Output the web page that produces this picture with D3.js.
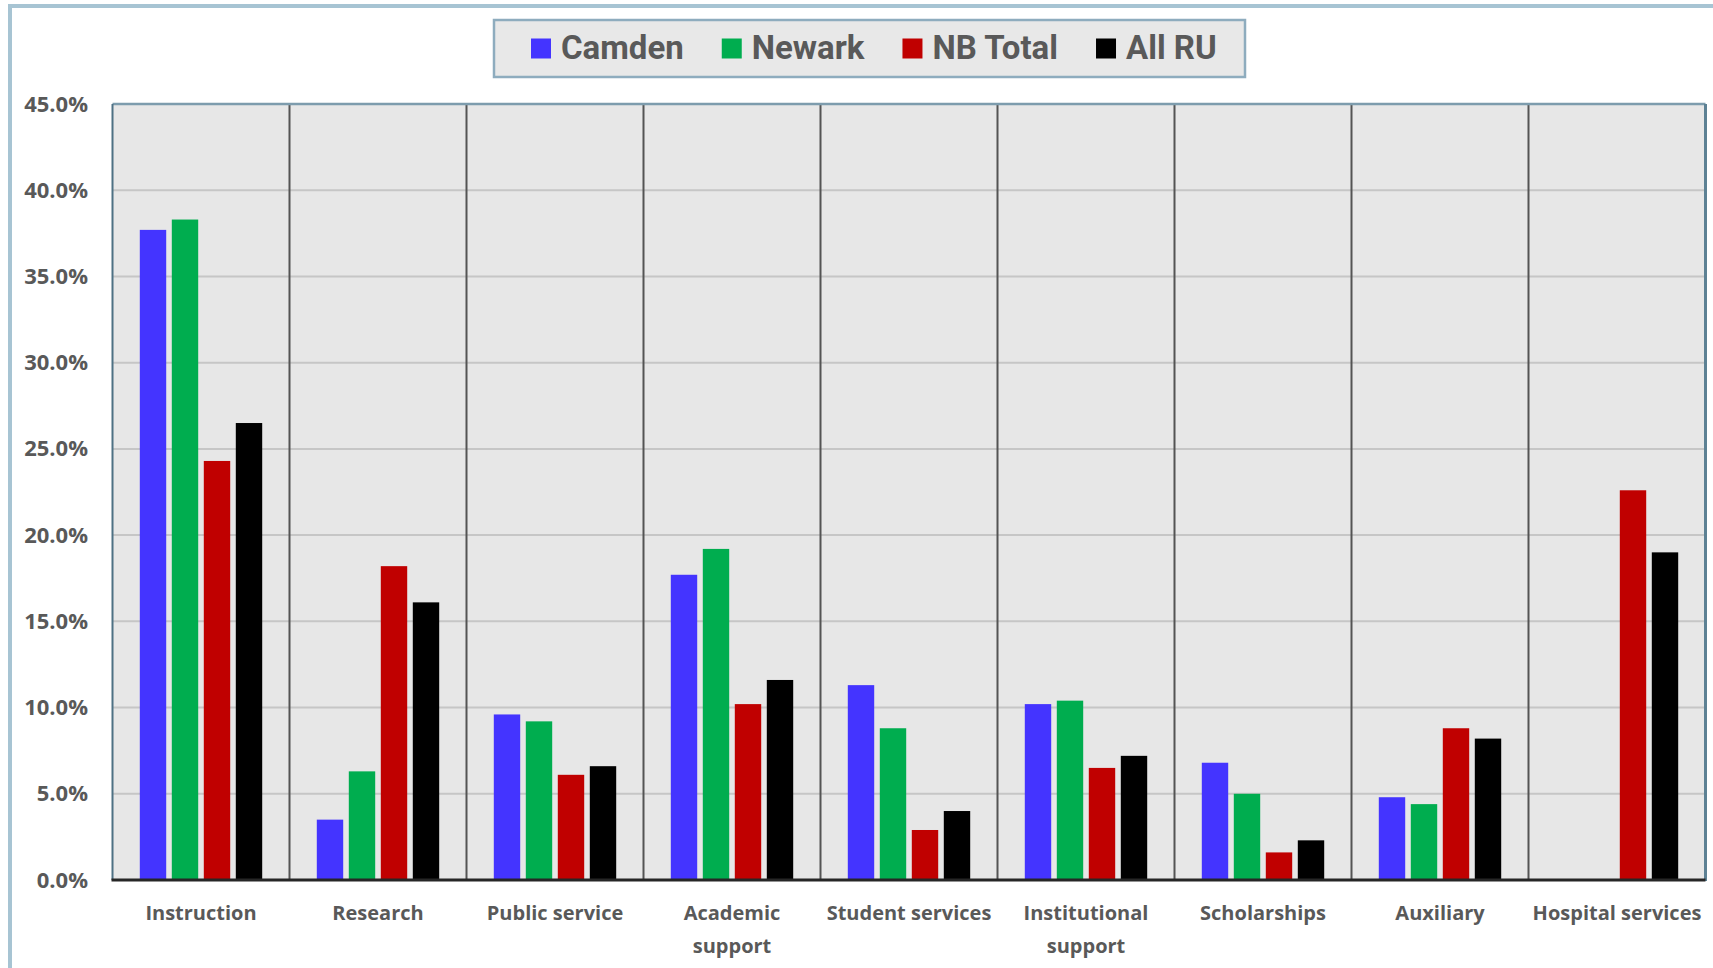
<!DOCTYPE html>
<html>
<head>
<meta charset="utf-8">
<script src="https://cdn.jsdelivr.net/npm/d3@7"></script>
<style>
  html, body { margin: 0; padding: 0; background: #ffffff; }
  svg { display: block; }
</style>
</head>
<body>
<svg id="chart" width="1713" height="968"></svg>
<script>
// Share of expenditures by function, per campus
const categories = ["Instruction", "Research", "Public service", "Academic support", "Student services",
  "Institutional support", "Scholarships", "Auxiliary", "Hospital services"];
const categoryLines = [["Instruction"], ["Research"], ["Public service"], ["Academic", "support"],
  ["Student services"], ["Institutional", "support"], ["Scholarships"], ["Auxiliary"], ["Hospital services"]];
const seriesNames = ["Camden", "Newark", "NB Total", "All RU"];
const seriesColors = ["#4434ff", "#00ad4f", "#c00000", "#000000"];
const camden  = [37.7, 3.5, 9.6, 17.7, 11.3, 10.2, 6.8, 4.8, 0];
const newark  = [38.3, 6.3, 9.2, 19.2, 8.8, 10.4, 5.0, 4.4, 0];
const nbTotal = [24.3, 18.2, 6.1, 10.2, 2.9, 6.5, 1.6, 8.8, 22.6];
const allRU   = [26.5, 16.1, 6.6, 11.6, 4.0, 7.2, 2.3, 8.2, 19.0];
const seriesValues = [camden, newark, nbTotal, allRU];
const yTicks = [0, 5, 10, 15, 20, 25, 30, 35, 40, 45];

const svg = d3.select("#chart");
const plot = { left: 112.5, right: 1705.5, top: 104, bottom: 880 };
const textGray = "#595959";

// outer frame
svg.append("rect")
  .attr("x", 10).attr("y", 6).attr("width", 1780).attr("height", 1000)
  .attr("fill", "none").attr("stroke", "#a7c4d3").attr("stroke-width", 4);

const x = d3.scaleBand().domain(categories).range([plot.left, plot.right]).padding(0);
const xInner = d3.scaleBand().domain(seriesNames).range([0, x.bandwidth()])
  .paddingInner(0.175).paddingOuter(0.853);
const y = d3.scaleLinear().domain([0, 45]).range([plot.bottom, plot.top]);

// plot background
svg.append("rect")
  .attr("x", plot.left).attr("y", plot.top)
  .attr("width", plot.right - plot.left).attr("height", plot.bottom - plot.top)
  .attr("fill", "#e7e7e7");

// horizontal gridlines
svg.append("g").selectAll("line")
  .data(yTicks.filter(t => t > 0 && t < 45))
  .join("line")
  .attr("x1", plot.left).attr("x2", plot.right)
  .attr("y1", d => y(d)).attr("y2", d => y(d))
  .attr("stroke", "#c6c6c6").attr("stroke-width", 2);

// vertical category dividers
svg.append("g").selectAll("line")
  .data(categories.slice(1))
  .join("line")
  .attr("x1", d => x(d)).attr("x2", d => x(d))
  .attr("y1", plot.top).attr("y2", plot.bottom)
  .attr("stroke", "#545454").attr("stroke-width", 2);

// bars
const groups = svg.append("g").selectAll("g")
  .data(categories)
  .join("g")
  .attr("transform", d => `translate(${x(d)},0)`);

groups.selectAll("rect")
  .data((d, i) => seriesNames.map((s, j) => ({ s, j, v: seriesValues[j][i] })))
  .join("rect")
  .attr("x", d => xInner(d.s))
  .attr("width", xInner.bandwidth())
  .attr("y", d => y(d.v))
  .attr("height", d => y(0) - y(d.v))
  .attr("fill", d => seriesColors[d.j]);

// plot border
svg.append("line").attr("x1", plot.left).attr("x2", plot.right).attr("y1", plot.top).attr("y2", plot.top)
  .attr("stroke", "#7d9cad").attr("stroke-width", 2.5);
svg.append("line").attr("x1", plot.left).attr("x2", plot.left).attr("y1", plot.top).attr("y2", plot.bottom)
  .attr("stroke", "#4e7184").attr("stroke-width", 2);
svg.append("line").attr("x1", plot.right).attr("x2", plot.right).attr("y1", plot.top).attr("y2", plot.bottom + 1)
  .attr("stroke", "#5d8194").attr("stroke-width", 3);
svg.append("line").attr("x1", plot.left - 1).attr("x2", plot.right).attr("y1", plot.bottom).attr("y2", plot.bottom)
  .attr("stroke", "#262626").attr("stroke-width", 3);

// y axis labels
const yAxis = svg.append("g")
  .attr("transform", `translate(${plot.left},0)`)
  .call(d3.axisLeft(y).tickValues(yTicks).tickFormat(d => d.toFixed(1) + "%").tickSize(0).tickPadding(24.5));
yAxis.select(".domain").remove();
yAxis.selectAll("text")
  .attr("fill", textGray)
  .style("font-family", "'Open Sans', sans-serif")
  .style("font-weight", "700")
  .style("font-size", "22px");

// x axis labels (wrapped)
const xAxis = svg.append("g")
  .attr("transform", `translate(0,${plot.bottom})`)
  .call(d3.axisBottom(x).tickSize(0));
xAxis.select(".domain").remove();
xAxis.selectAll("text")
  .attr("fill", textGray)
  .style("font-family", "'Open Sans', sans-serif")
  .style("font-weight", "700")
  .style("font-size", "20px")
  .attr("y", 0).attr("dy", null)
  .each(function (d) {
    const lines = categoryLines[categories.indexOf(d)];
    const t = d3.select(this).text(null);
    lines.forEach((ln, k) => {
      t.append("tspan").attr("x", 0).attr("y", 40 + k * 33).text(ln);
    });
  });

// legend
const legend = svg.append("g");
legend.append("rect")
  .attr("x", 494).attr("y", 20).attr("width", 751).attr("height", 57)
  .attr("fill", "#e8e8e8").attr("stroke", "#8eacbe").attr("stroke-width", 2.5);
let lx = 531;
seriesNames.forEach((name, i) => {
  legend.append("rect")
    .attr("x", lx).attr("y", 38.5).attr("width", 20).attr("height", 20)
    .attr("fill", seriesColors[i]);
  const t = legend.append("text")
    .attr("x", lx + 30).attr("y", 59)
    .attr("fill", textGray)
    .style("font-family", "Roboto, sans-serif")
    .style("font-weight", "700")
    .style("font-size", "33px")
    .text(name);
  lx += 30 + t.node().getComputedTextLength() + 38;
});
</script>
</body>
</html>
